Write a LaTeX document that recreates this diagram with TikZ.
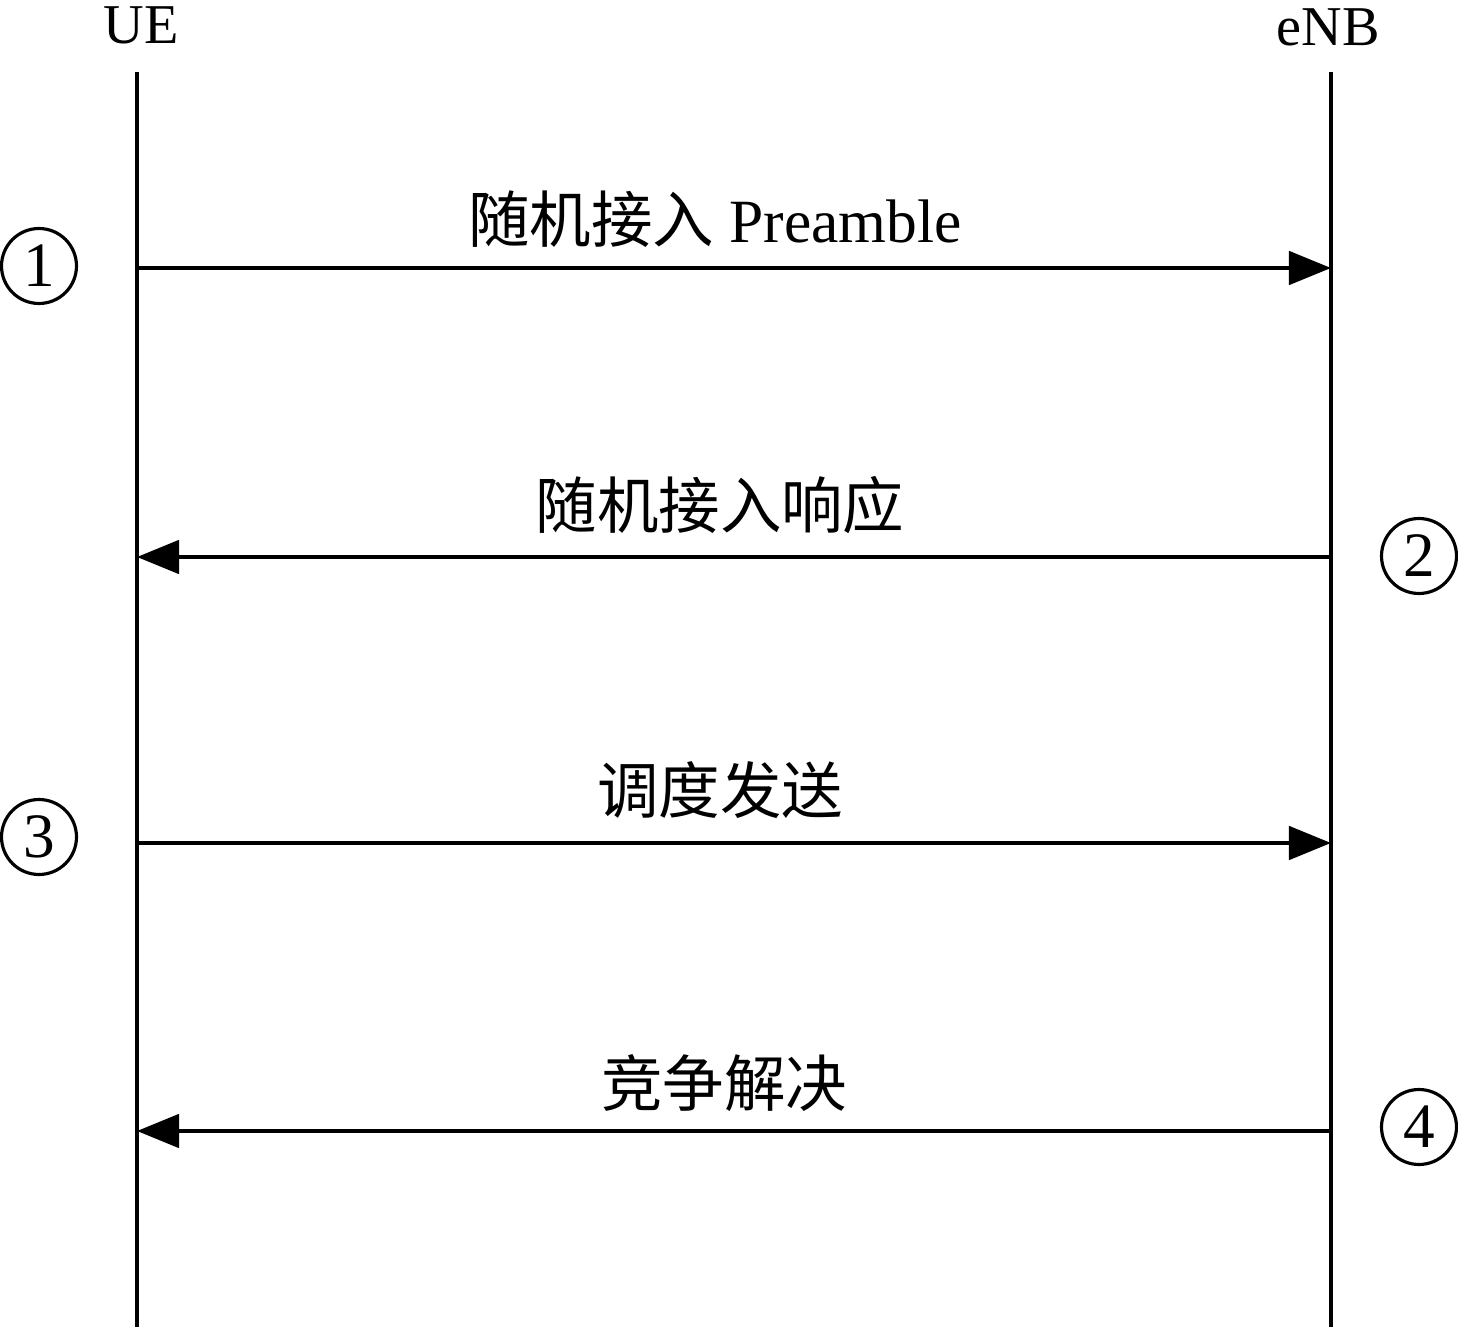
\documentclass[tikz,border=0pt]{standalone}
\usepackage{fontspec}
\setmainfont{Liberation Serif}
\newfontfamily\cjk{Noto Sans CJK SC}
\usepackage{tikz}
\usetikzlibrary{arrows.meta, positioning, calc}

\begin{document}
\begin{tikzpicture}[
    x=0.02cm, y=-0.02cm,
    head/.style={anchor=base, inner sep=0pt, font=\fontsize{32}{38}\selectfont},
    lifeline/.style={line width=2.5pt},
    msg/.style={-{Triangle[length=24pt, width=19pt]}, line width=2.3pt},
    lbl/.style={inner sep=0pt, font=\fontsize{35}{40}\selectfont},
    num/.style={draw, circle, line width=1.8pt, minimum size=1.5cm, inner sep=0pt, font=\fontsize{36}{40}\selectfont}
]
    \useasboundingbox (0,0) rectangle (1458,1327);

    % Entities
    \node[head] (ue) at (141, 44) {UE};
    \node[head] (enb) at (1328, 46) {eNB};
    \coordinate (ue_top) at (137, 72);
    \coordinate (ue_bot) at (137, 1327);
    \coordinate (enb_top) at (1331, 72);
    \coordinate (enb_bot) at (1331, 1327);
    \draw[lifeline] (ue_top) -- (ue_bot);
    \draw[lifeline] (enb_top) -- (enb_bot);

    % Message ends on the lifelines
    \coordinate (ue1) at (137, 268);
    \coordinate (enb1) at (1331, 268);
    \coordinate (ue2) at (137, 557);
    \coordinate (enb2) at (1331, 557);
    \coordinate (ue3) at (137, 843);
    \coordinate (enb3) at (1331, 843);
    \coordinate (ue4) at (137, 1131);
    \coordinate (enb4) at (1331, 1131);

    % Messages
    \draw[msg] (ue1) -- (enb1);
    \node[lbl] (l1) at (715, 219) {{\cjk 随机接入} Preamble};
    \draw[msg] (enb2) -- (ue2);
    \node[lbl] (l2) at (720, 505) {\cjk 随机接入响应};
    \draw[msg] (ue3) -- (enb3);
    \node[lbl] (l3) at (720, 790) {\cjk 调度发送};
    \draw[msg] (enb4) -- (ue4);
    \node[lbl] (l4) at (724, 1083) {\cjk 竞争解决};

    % Step numbers
    \node[num] (n1) at (39, 266) {1};
    \node[num] (n2) at (1419, 556) {2};
    \node[num] (n3) at (39, 837) {3};
    \node[num] (n4) at (1419, 1127) {4};
\end{tikzpicture}
\end{document}
